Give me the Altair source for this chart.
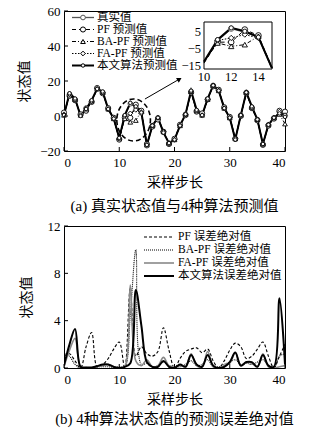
import altair as alt
import pandas as pd

FONT = "Liberation Serif, Noto Sans CJK SC"

# ---------------- data (top panel) ----------------
steps = list(range(41))
true_vals = [1, 12.5, 9.5, 0.5, 4.5, 8.5, 15.5, 13.5, 4, -1.5, -13, 0, 7, 5, 2, -17, -5.5, -1, -9, -15.5,
             -13.5, -5.5, 1, 14, 3, 0.5, 9.5, 17.5, 14.5, 4.5, -1, -13, 0.5, 13.5, 5, -2, -16, -5, -1, 2, 0]
pf_pred = [2, 11.5, 9, 1, 3, 8, 16, 13, 4.5, -1, -13.5, -1, -1, 6.5, 3, -16, -6, -2, -9, -16,
           -13, -5, 0.5, 13.5, 2.5, 1.5, 9.5, 17, 15, 5, -0.5, -13, 0, 13, 4.5, -2.5, -16.5, -5.5, -1.5, 3, 2.5]
ba_pred = [0.5, 12, 9.5, 0.5, 4, 8.5, 15.5, 13.5, 4, -1.5, -12.5, -1.5, -3.5, -2.5, 2.5, -16.5, -5.5, -1, -9, -15.5,
           -13.5, -5.5, 1, 14, 3, 0.5, 9.5, 17.5, 14.5, 4.5, -1, -13, 0.5, 13.5, 5, -2, -16, -5, -1, 1, -4.5]
fa_pred = [1, 12.5, 9.5, 0.5, 4.5, 8.5, 15.5, 13.5, 4, -1.5, -13, 0, 1.5, 3.5, 1.5, -16.5, -5.5, -1, -9, -15.5,
           -13.5, -5.5, 1, 14, 3, 0.5, 9.5, 17.5, 14.5, 4.5, -1, -13, 0.5, 13.5, 5, -2, -16, -5, -1, 2.5, 0.5]
ours_pred = [0.5, 13, 10, 0, 4, 9, 15.5, 14, 4, -1.5, -12.5, 0.5, 7.5, 5.5, 2, -16.5, -5.5, -1, -9.5, -15.5,
             -13.5, -5.5, 1, 14.5, 3.5, 0.5, 10, 17.5, 14.5, 4.5, -1, -13.5, 0.5, 13.5, 5.5, -2, -16, -5, -1, 1.5, -0.5]
top_labels = ["真实值", "PF 预测值", "BA-PF 预测值", "FA-PF 预测值", "本文算法预测值"]
top_x_ticks = [0, 10, 20, 30, 40]
top_y_ticks = [-20, 0, 20, 40, 60]

# inset
inset_x_ticks = [10, 12, 14]
inset_y_ticks = [5, -5, -15]
inset_steps = [10, 15]
inset_vals = [-17, 11]

# annotations
ellipse_center = (12.6, -2.3)
arrow_from = (14.65, 9.7)
arrow_to = (20.9, 21.1)

# ---------------- data (bottom panel) ----------------
pf_err = [1.0, 1.2, 0.6, 0.0, 1.8, 3.0, 0.1, 0.3, 0.8, 1.6, 2.2, 0.0, 6.8, 1.0, 1.8, 1.2, 1.0, 1.4, 3.4, 1.5,
          0.0, 0.8, 1.4, 1.6, 1.7, 1.3, 1.6, 0.6, 0.0, 0.6, 1.5, 2.1, 1.8, 0.8, 1.0, 1.6, 2.2, 1.0, 0.0, 1.0, 2.0]
ba_err = [1.3, 1.0, 0.3, 0.0, 0.05, 0.0, 0.1, 0.1, 0.1, 0.05, 0.1, 0.1, 4.5, 10.0, 0.3, 0.4, 0.1, 0.2, 0.5, 0.2,
          0.1, 0.1, 0.3, 0.6, 0.2, 0.3, 0.7, 0.1, 0.1, 0.3, 0.5, 0.7, 0.3, 0.4, 0.3, 0.5, 0.7, 0.2, 0.0, 1.0, 1.2]
fa_err = [0.1, 1.5, 2.5, 0.1, 0.0, 0.0, 0.1, 0.2, 0.3, 0.1, 0.0, 0.1, 7.0, 0.6, 0.2, 0.7, 0.1, 0.2, 0.9, 0.2,
          0.1, 0.2, 0.1, 1.2, 0.2, 0.1, 1.4, 0.1, 0.0, 0.2, 0.4, 1.3, 0.2, 0.5, 0.4, 0.1, 1.2, 0.1, 0.0, 0.1, 0.2]
ours_err = [0.2, 2.0, 3.3, 0.1, 0.05, 0.05, 0.15, 0.3, 0.3, 0.1, 0.0, 0.1, 0.4, 6.6, 3.6, 0.5, 0.1, 0.1, 0.6, 0.1,
            0.0, 0.3, 0.1, 1.1, 0.3, 0.1, 1.1, 0.2, 0.0, 0.1, 0.5, 1.3, 0.2, 0.5, 0.5, 0.1, 1.1, 0.2, 0.1, 5.9, 0.3]
bot_labels = ["PF 误差绝对值", "BA-PF 误差绝对值", "FA-PF 误差绝对值", "本文算法误差绝对值"]
bot_y_ticks = [0, 4, 8, 12]

# ---------------- styles ----------------
top_styles = [
    dict(color="#555555", width=1.3, dash=None, shape="circle", size=22),
    dict(color="black", width=1.0, dash=[4, 3], shape="circle", size=26),
    dict(color="black", width=1.0, dash=[4, 2, 1, 2], shape="triangle-up", size=22),
    dict(color="black", width=1.0, dash=[1.5, 1.5], shape="diamond", size=22),
    dict(color="black", width=2.0, dash=None, shape="circle", size=12),
]
bot_styles = [
    dict(color="black", width=1.1, dash=[3, 2]),
    dict(color="black", width=1.1, dash=[1, 1]),
    dict(color="#888888", width=1.6, dash=None),
    dict(color="black", width=2.0, dash=None),
]

TW, TH = 221, 140
BW, BH = 221, 142


def line_kwargs(st):
    kw = dict(color=st["color"], strokeWidth=st["width"])
    if st["dash"]:
        kw["strokeDash"] = st["dash"]
    return kw


def legend_row(x1, x2, y, tx, label, st, fs):
    d = pd.DataFrame({"label": [label]})
    base = alt.Chart(d)
    layers = [base.mark_rule(**line_kwargs(st)).encode(
        x=alt.value(x1), x2=alt.value(x2), y=alt.value(y))]
    if st.get("shape"):
        layers.append(base.mark_point(shape=st["shape"], size=st["size"], filled=True, fill="white",
                                      stroke=st["color"], strokeWidth=1, opacity=1).encode(
            x=alt.value((x1 + x2) / 2), y=alt.value(y)))
    layers.append(base.mark_text(align="left", baseline="middle", font=FONT, fontSize=fs,
                                 color="black").encode(x=alt.value(tx), y=alt.value(y), text="label:N"))
    return layers


# ---------------- top panel ----------------
xs_top = alt.Scale(domain=[0, 40], nice=False)
ys_top = alt.Scale(domain=[-20, 60], nice=False)
xax_top = alt.Axis(values=top_x_ticks, title="采样步长", tickSize=0, domain=False, labelPadding=5,
                   titlePadding=6)
yax_top = alt.Axis(values=top_y_ticks, title="状态值", tickSize=0, domain=False, labelPadding=4,
                   titlePadding=8)


def TX(f="t"):
    return alt.X(f"{f}:Q", scale=xs_top, axis=xax_top)


def TY(f="v"):
    return alt.Y(f"{f}:Q", scale=ys_top, axis=yax_top)


top_series = [true_vals, pf_pred, ba_pred, fa_pred, ours_pred]
main_layers = []
for lab, vals, st in zip(top_labels, top_series, top_styles):
    df = pd.DataFrame({"t": steps, "v": vals})
    main_layers.append(alt.Chart(df).mark_line(**line_kwargs(st)).encode(x=TX(), y=TY()))
for lab, vals, st in zip(top_labels, top_series, top_styles):
    df = pd.DataFrame({"t": steps, "v": vals})
    main_layers.append(alt.Chart(df).mark_point(shape=st["shape"], size=st["size"], filled=True,
                                                fill="white", stroke=st["color"], strokeWidth=0.9,
                                                opacity=1).encode(x=TX(), y=TY()))

# inward ticks
main_layers.append(alt.Chart(pd.DataFrame({"t": top_x_ticks})).mark_rule(color="black").encode(
    x=TX(), y=alt.value(TH), y2=alt.value(TH - 4)))
main_layers.append(alt.Chart(pd.DataFrame({"v": top_y_ticks})).mark_rule(color="black").encode(
    y=TY(), x=alt.value(0), x2=alt.value(4)))

# ellipse + arrow
ell = pd.DataFrame({"t": [ellipse_center[0]], "v": [ellipse_center[1]]})
main_layers.append(alt.Chart(ell).mark_point(
    shape="M -0.8 0 A 0.8 1 0 1 0 0.8 0 A 0.8 1 0 1 0 -0.8 0", size=1764, filled=False,
    stroke="black", strokeWidth=1.6, strokeDash=[5, 3], opacity=1).encode(x=TX(), y=TY()))
arr = pd.DataFrame({"t": [arrow_from[0]], "v": [arrow_from[1]], "t2": [arrow_to[0]], "v2": [arrow_to[1]]})
main_layers.append(alt.Chart(arr).mark_rule(color="black", strokeWidth=1).encode(
    x=TX(), y=TY(), x2="t2:Q", y2="v2:Q"))
arrh = pd.DataFrame({"t": [arrow_to[0]], "v": [arrow_to[1]]})
main_layers.append(alt.Chart(arrh).mark_point(shape="triangle-up", angle=60, size=30, filled=True,
                                              color="black", opacity=1).encode(x=TX(), y=TY()))

# legend
for i, (lab, st) in enumerate(zip(top_labels, top_styles)):
    main_layers += legend_row(8, 30, 6.5 + 12 * i, 33, lab, st, 11.5)

main = alt.layer(*main_layers)

# inset
xs_in = alt.Scale(domain=inset_steps, range=[140, 208], nice=False, zero=False)
ys_in = alt.Scale(domain=inset_vals, range=[58, 11], nice=False, zero=False)


def IX(f="t"):
    return alt.X(f"{f}:Q", scale=xs_in, axis=None)


def IY(f="v"):
    return alt.Y(f"{f}:Q", scale=ys_in, axis=None)


inset_layers = []
box = pd.DataFrame({"t": [inset_steps[0]], "t2": [inset_steps[1]], "v": [inset_vals[0]], "v2": [inset_vals[1]]})
inset_layers.append(alt.Chart(box).mark_rect(fill="white", stroke="black", strokeWidth=1).encode(
    x=IX(), x2="t2:Q", y=IY(), y2="v2:Q"))
for lab, vals, st in zip(top_labels, top_series, top_styles):
    df = pd.DataFrame({"t": steps[10:16], "v": vals[10:16]})
    inset_layers.append(alt.Chart(df).mark_line(clip=True, **line_kwargs(st)).encode(x=IX(), y=IY()))
for lab, vals, st in zip(top_labels, top_series, top_styles):
    df = pd.DataFrame({"t": steps[11:15], "v": vals[11:15]})
    inset_layers.append(alt.Chart(df).mark_point(shape=st["shape"], size=st["size"] + 6, filled=True,
                                                 fill="white", stroke=st["color"], strokeWidth=0.9,
                                                 opacity=1).encode(x=IX(), y=IY()))
inset_layers.append(alt.Chart(pd.DataFrame({"t": inset_x_ticks})).mark_text(
    font=FONT, fontSize=12.5, baseline="top", color="black").encode(x=IX(), y=alt.value(60), text="t:Q"))
inset_layers.append(alt.Chart(pd.DataFrame({"v": inset_y_ticks})).mark_text(
    font=FONT, fontSize=12.5, align="right", baseline="middle", color="black").encode(
    y=IY(), x=alt.value(137), text=alt.Text("v:Q", format="d")))
inset = alt.layer(*inset_layers)

top = alt.layer(main, inset).resolve_scale(x="independent", y="independent").properties(
    width=TW, height=TH,
    title=alt.TitleParams("(a)  真实状态值与4种算法预测值", orient="bottom", anchor="middle", frame="group",
                          font=FONT, fontSize=15, fontWeight="normal", offset=10, color="black"))

# ---------------- bottom panel ----------------
xs_b = alt.Scale(domain=[0, 40], nice=False)
ys_b = alt.Scale(domain=[0, 12], nice=False)
xax_b = alt.Axis(values=top_x_ticks, title="采样步长", tickSize=0, domain=False, labelPadding=5,
                 titlePadding=6)
yax_b = alt.Axis(values=bot_y_ticks, title="状态值", tickSize=0, domain=False, labelPadding=4,
                 titlePadding=14)


def BX(f="t"):
    return alt.X(f"{f}:Q", scale=xs_b, axis=xax_b)


def BY(f="v"):
    return alt.Y(f"{f}:Q", scale=ys_b, axis=yax_b)


bot_layers = []
for lab, vals, st in zip(bot_labels, [pf_err, ba_err, fa_err, ours_err], bot_styles):
    df = pd.DataFrame({"t": steps, "v": vals})
    bot_layers.append(alt.Chart(df).mark_line(interpolate="catmull-rom", clip=True,
                                              **line_kwargs(st)).encode(x=BX(), y=BY()))
bot_layers.append(alt.Chart(pd.DataFrame({"t": top_x_ticks})).mark_rule(color="black").encode(
    x=BX(), y=alt.value(BH), y2=alt.value(BH - 4)))
bot_layers.append(alt.Chart(pd.DataFrame({"v": bot_y_ticks})).mark_rule(color="black").encode(
    y=BY(), x=alt.value(0), x2=alt.value(4)))
for i, (lab, st) in enumerate(zip(bot_labels, bot_styles)):
    bot_layers += legend_row(80, 110, 11 + 13 * i, 114, lab, st, 11.5)

bottom = alt.layer(*bot_layers).properties(
    width=BW, height=BH,
    title=alt.TitleParams("(b)  4种算法状态值的预测误差绝对值", orient="bottom", anchor="middle", frame="group",
                          font=FONT, fontSize=15, fontWeight="normal", offset=6, color="black"))

chart = alt.vconcat(top, bottom, spacing=4).properties(
    padding={"left": 17, "top": 4, "right": 2, "bottom": 2}
).configure_view(stroke="black", strokeWidth=1).configure_axis(
    grid=False, labelFont=FONT, titleFont=FONT, labelFontSize=13, titleFontSize=14,
    titleFontWeight="normal", labelColor="black", titleColor="black"
)

chart.save("out.html", embed_options={"renderer": "svg", "actions": False})
